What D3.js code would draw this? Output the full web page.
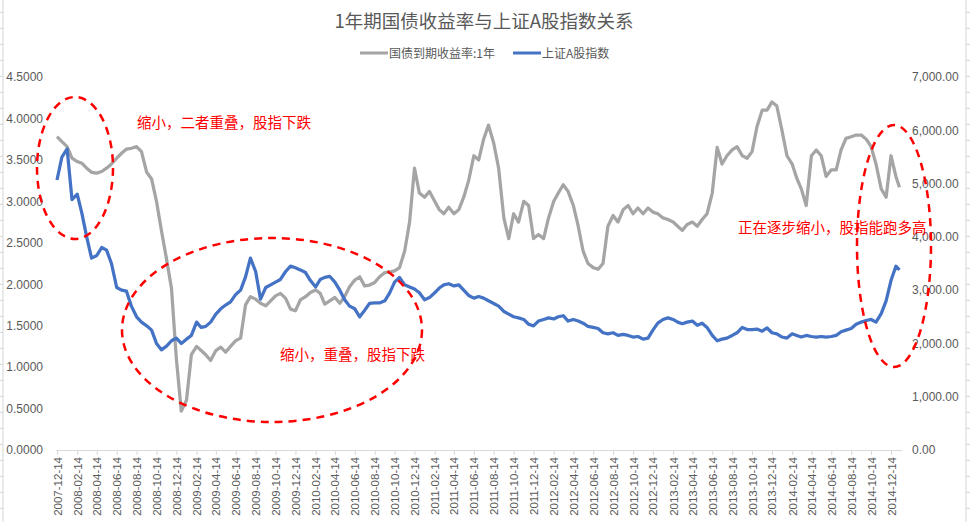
<!DOCTYPE html>
<html>
<head>
<meta charset="utf-8">
<script src="https://cdn.jsdelivr.net/npm/d3@7"></script>
<style>
  body { margin: 0; background: #fff; }
  text { font-family: "Liberation Sans", "Noto Sans CJK SC", sans-serif; }
  .cjk { font-family: "Noto Sans CJK SC", sans-serif; }
</style>
</head>
<body>
<div id="container"></div>
<script>
const title = "1年期国债收益率与上证A股指数关系";
const seriesNames = ["国债到期收益率:1年", "上证A股指数"];

const tickLabels = [
  "2007-12-14", "2008-02-14", "2008-04-14", "2008-06-14", "2008-08-14", "2008-10-14",
  "2008-12-14", "2009-02-14", "2009-04-14", "2009-06-14", "2009-08-14", "2009-10-14",
  "2009-12-14", "2010-02-14", "2010-04-14", "2010-06-14", "2010-08-14", "2010-10-14",
  "2010-12-14", "2011-02-14", "2011-04-14", "2011-06-14", "2011-08-14", "2011-10-14",
  "2011-12-14", "2012-02-14", "2012-04-14", "2012-06-14", "2012-08-14", "2012-10-14",
  "2012-12-14", "2013-02-14", "2013-04-14", "2013-06-14", "2013-08-14", "2013-10-14",
  "2013-12-14", "2014-02-14", "2014-04-14", "2014-06-14", "2014-08-14", "2014-10-14",
  "2014-12-14"
];

const dates = [
  "2007-12-14","2007-12-29","2008-01-14","2008-01-29","2008-02-14","2008-02-28",
  "2008-03-14","2008-03-29","2008-04-14","2008-04-29","2008-05-14","2008-05-29",
  "2008-06-14","2008-06-29","2008-07-14","2008-07-29","2008-08-14","2008-08-29",
  "2008-09-14","2008-09-29","2008-10-14","2008-10-29","2008-11-14","2008-11-29",
  "2008-12-14","2008-12-29","2009-01-14","2009-01-29","2009-02-14","2009-02-28",
  "2009-03-14","2009-03-29","2009-04-14","2009-04-29","2009-05-14","2009-05-29",
  "2009-06-14","2009-06-29","2009-07-14","2009-07-29","2009-08-14","2009-08-29",
  "2009-09-14","2009-09-29","2009-10-14","2009-10-29","2009-11-14","2009-11-29",
  "2009-12-14","2009-12-29","2010-01-14","2010-01-29","2010-02-14","2010-02-28",
  "2010-03-14","2010-03-29","2010-04-14","2010-04-29","2010-05-14","2010-05-29",
  "2010-06-14","2010-06-29","2010-07-14","2010-07-29","2010-08-14","2010-08-29",
  "2010-09-14","2010-09-29","2010-10-14","2010-10-29","2010-11-14","2010-11-29",
  "2010-12-14","2010-12-29","2011-01-14","2011-01-29","2011-02-14","2011-02-28",
  "2011-03-14","2011-03-29","2011-04-14","2011-04-29","2011-05-14","2011-05-29",
  "2011-06-14","2011-06-29","2011-07-14","2011-07-29","2011-08-14","2011-08-29",
  "2011-09-14","2011-09-29","2011-10-14","2011-10-29","2011-11-14","2011-11-29",
  "2011-12-14","2011-12-29","2012-01-14","2012-01-29","2012-02-14","2012-02-28",
  "2012-03-14","2012-03-29","2012-04-14","2012-04-29","2012-05-14","2012-05-29",
  "2012-06-14","2012-06-29","2012-07-14","2012-07-29","2012-08-14","2012-08-29",
  "2012-09-14","2012-09-29","2012-10-14","2012-10-29","2012-11-14","2012-11-29",
  "2012-12-14","2012-12-29","2013-01-14","2013-01-29","2013-02-14","2013-02-28",
  "2013-03-14","2013-03-29","2013-04-14","2013-04-29","2013-05-14","2013-05-29",
  "2013-06-14","2013-06-29","2013-07-14","2013-07-29","2013-08-14","2013-08-29",
  "2013-09-14","2013-09-29","2013-10-14","2013-10-29","2013-11-14","2013-11-29",
  "2013-12-14","2013-12-29","2014-01-14","2014-01-29","2014-02-14","2014-02-28",
  "2014-03-14","2014-03-29","2014-04-14","2014-04-29","2014-05-14","2014-05-29",
  "2014-06-14","2014-06-29","2014-07-14","2014-07-29","2014-08-14","2014-08-29",
  "2014-09-14","2014-09-29","2014-10-14","2014-10-29","2014-11-14","2014-11-29",
  "2014-12-14","2014-12-29","2015-01-09"
];

// 国债到期收益率:1年 (left axis)
const bondYield = [
  3.78,3.72, 3.66,3.52, 3.48,3.46, 3.40,3.35, 3.34,3.36, 3.40,3.45,
  3.52,3.58, 3.63,3.64, 3.66,3.60, 3.35,3.27, 3.00,2.65, 2.30,1.95,
  1.10,0.47, 0.60,1.15, 1.25,1.20, 1.15,1.08, 1.20,1.24, 1.18,1.25,
  1.32,1.35, 1.75,1.85, 1.82,1.77, 1.74,1.80, 1.86,1.89, 1.83,1.70,
  1.68,1.81, 1.85,1.90, 1.93,1.89, 1.76,1.80, 1.84,1.77, 1.85,1.97,
  2.05,2.09, 1.98,1.99, 2.02,2.09, 2.14,2.15, 2.16,2.20, 2.40,2.75,
  3.40,3.10, 3.05,3.12, 3.00,2.90, 2.85,2.93, 2.85,2.90, 3.05,3.25,
  3.55,3.50, 3.75,3.92, 3.70,3.40, 2.80,2.55, 2.85,2.75, 3.00,2.95,
  2.55,2.60, 2.55,2.80, 3.00,3.10, 3.20,3.12, 2.95,2.70, 2.40,2.25,
  2.20,2.18, 2.25,2.70, 2.83,2.75, 2.90,2.95, 2.85,2.92, 2.85,2.92,
  2.87,2.85, 2.80,2.78, 2.75,2.70, 2.65,2.72, 2.75,2.70, 2.78,2.85,
  3.10,3.65, 3.45,3.55, 3.62,3.66, 3.55,3.52, 3.60,3.90, 4.10,4.10,
  4.20,4.15, 3.85,3.55, 3.45,3.28, 3.15,2.95, 3.55,3.62, 3.55,3.30,
  3.38,3.38, 3.62,3.76, 3.78,3.80, 3.80,3.75, 3.66,3.45, 3.15,3.05,
  3.55,3.30, 3.17
];

// 上证A股指数 (right axis)
const indexValues = [
  5067,5498, 5650,4700, 4800,4450, 4000,3600, 3650,3800, 3750,3500,
  3050,3000, 2980,2700, 2500,2400, 2330,2250, 2000,1880, 1950,2050,
  2100,2000, 2080,2150, 2400,2300, 2320,2400, 2550,2650, 2720,2780,
  2920,3000, 3250,3600, 3350,2830, 3050,3100, 3150,3200, 3350,3450,
  3420,3380, 3330,3180, 3060,3200, 3240,3260, 3150,3000, 2820,2700,
  2650,2500, 2620,2750, 2760,2760, 2800,2950, 3150,3240, 3100,3060,
  3020,2950, 2820,2860, 2950,3040, 3100,3120, 3080,3100, 3000,2900,
  2850,2880, 2850,2800, 2750,2700, 2600,2550, 2500,2480, 2450,2360,
  2330,2420, 2450,2480, 2460,2500, 2520,2420, 2450,2420, 2380,2320,
  2300,2280, 2200,2180, 2200,2150, 2170,2150, 2120,2130, 2080,2100,
  2250,2380, 2450,2480, 2450,2400, 2370,2400, 2420,2340, 2380,2300,
  2150,2050, 2080,2100, 2150,2200, 2300,2260, 2260,2270, 2230,2290,
  2200,2180, 2120,2100, 2180,2150, 2120,2150, 2130,2120, 2130,2120,
  2130,2150, 2220,2250, 2280,2360, 2400,2430, 2450,2400, 2560,2800,
  3180,3450, 3380
];

const leftTicks = [0, 0.5, 1, 1.5, 2, 2.5, 3, 3.5, 4, 4.5];
const rightTicks = [0, 1000, 2000, 3000, 4000, 5000, 6000, 7000];

const width = 970, height = 522;
const textColor = "#595959";
const grayColor = "#a5a5a5";
const blueColor = "#4472c4";

const parse = d3.timeParse("%Y-%m-%d");

const svg = d3.select("#container").append("svg")
  .attr("width", width)
  .attr("height", height);

// sheet cell lines outside the chart
const rows = d3.range(12.3, height, 16);
[[0, 3, 3], [966, 970, 966]].forEach(function (s) {
  svg.append("line")
    .attr("x1", s[2]).attr("x2", s[2]).attr("y1", 0).attr("y2", height)
    .style("stroke", "#d4d4d4");
  svg.selectAll(null).data(rows).enter().append("line")
    .attr("x1", s[0]).attr("x2", s[1])
    .attr("y1", function (d) { return d; }).attr("y2", function (d) { return d; })
    .style("stroke", "#d4d4d4");
});

const x = d3.scaleTime()
  .domain([parse(tickLabels[0]), parse(tickLabels[tickLabels.length - 1])])
  .range([57, 891]);
const yLeft = d3.scaleLinear().domain([0, 4.5]).range([450, 77]);
const yRight = d3.scaleLinear().domain([0, 7000]).range([450, 77]);

// title
svg.append("text")
  .attr("class", "cjk")
  .attr("x", 484).attr("y", 28)
  .attr("text-anchor", "middle")
  .style("font-size", "18.5px")
  .style("fill", textColor)
  .text(title);

// legend
const legend = [
  { x: 360, color: grayColor, name: seriesNames[0] },
  { x: 513, color: blueColor, name: seriesNames[1] }
];
legend.forEach(function (l) {
  svg.append("line")
    .attr("x1", l.x).attr("x2", l.x + 28).attr("y1", 53).attr("y2", 53)
    .style("stroke", l.color).style("stroke-width", 3);
  svg.append("text")
    .attr("class", "cjk")
    .attr("x", l.x + 29).attr("y", 57.5)
    .style("font-size", "12px")
    .style("fill", textColor)
    .text(l.name);
});

// x axis
const xAxis = svg.append("g")
  .attr("transform", "translate(0,450)")
  .call(d3.axisBottom(x)
    .tickValues(tickLabels.map(parse))
    .tickFormat(d3.timeFormat("%Y-%m-%d"))
    .tickSize(5)
    .tickSizeOuter(0));
xAxis.select(".domain").attr("d", "M56,0.5H902").style("stroke", "#d9d9d9");
xAxis.selectAll(".tick line").style("stroke", "#d9d9d9");
xAxis.selectAll(".tick text")
  .attr("transform", "rotate(-90)")
  .attr("x", -7).attr("y", 0).attr("dy", "0.35em")
  .attr("text-anchor", "end")
  .style("font-size", "11.5px")
  .style("font-family", "Liberation Sans, sans-serif")
  .style("fill", textColor);

// left axis
const leftAxis = svg.append("g")
  .attr("transform", "translate(43,0)")
  .call(d3.axisLeft(yLeft).tickValues(leftTicks).tickFormat(d3.format(".4f")).tickSize(0));
leftAxis.select(".domain").remove();
leftAxis.selectAll("text")
  .attr("x", 0)
  .style("font-size", "12px")
  .style("font-family", "Liberation Sans, sans-serif")
  .style("fill", textColor);

// right axis
const rightAxis = svg.append("g")
  .attr("transform", "translate(912,0)")
  .call(d3.axisRight(yRight).tickValues(rightTicks).tickFormat(d3.format(",.2f")).tickSize(0));
rightAxis.select(".domain").remove();
rightAxis.selectAll("text")
  .attr("x", 0)
  .style("font-size", "12px")
  .style("font-family", "Liberation Sans, sans-serif")
  .style("fill", textColor);

// lines
const bondData = dates.map(function (d, i) { return { date: parse(d), value: bondYield[i] }; });
const indexData = dates.map(function (d, i) { return { date: parse(d), value: indexValues[i] }; });

svg.append("path")
  .datum(bondData)
  .attr("d", d3.line()
    .x(function (d) { return x(d.date); })
    .y(function (d) { return yLeft(d.value); }))
  .style("fill", "none")
  .style("stroke", grayColor)
  .style("stroke-width", 3.25)
  .style("stroke-linejoin", "round");

svg.append("path")
  .datum(indexData)
  .attr("d", d3.line()
    .x(function (d) { return x(d.date); })
    .y(function (d) { return yRight(d.value); }))
  .style("fill", "none")
  .style("stroke", blueColor)
  .style("stroke-width", 3.25)
  .style("stroke-linejoin", "round");

// annotations (the last one overlaps the right axis, as in the original)
const notes = [
  { text: "缩小，二者重叠，股指下跌", x: 137, y: 128 },
  { text: "缩小，重叠，股指下跌", x: 280, y: 360 },
  { text: "正在逐步缩小，股指能跑多高", x: 738, y: 233 }
];
svg.selectAll(".note").data(notes).enter().append("text")
  .attr("class", "note cjk")
  .attr("x", function (d) { return d.x; })
  .attr("y", function (d) { return d.y; })
  .style("font-size", "14.5px")
  .style("fill", "#ff0000")
  .text(function (d) { return d.text; });

const rings = [
  { cx: 75, cy: 168, rx: 38, ry: 71 },
  { cx: 272, cy: 330, rx: 150, ry: 92 },
  { cx: 894, cy: 246, rx: 37, ry: 121 }
];
svg.selectAll(".ring").data(rings).enter().append("ellipse")
  .attr("class", "ring")
  .attr("cx", function (d) { return d.cx; })
  .attr("cy", function (d) { return d.cy; })
  .attr("rx", function (d) { return d.rx; })
  .attr("ry", function (d) { return d.ry; })
  .style("fill", "none")
  .style("stroke", "#ff0000")
  .style("stroke-width", 2.5)
  .style("stroke-dasharray", "8,6");
</script>
</body>
</html>
